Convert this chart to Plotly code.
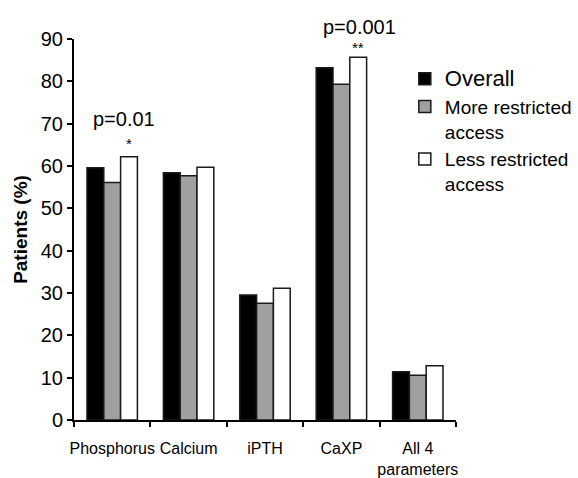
import plotly.graph_objects as go

categories = ["Phosphorus", "Calcium", "iPTH", "CaXP", "All 4<br>parameters"]
overall = [59.6, 58.4, 29.5, 83.2, 11.4]
more_restricted = [56.1, 57.7, 27.6, 79.3, 10.6]
less_restricted = [62.2, 59.7, 31.1, 85.7, 12.8]
y_ticks = [0, 10, 20, 30, 40, 50, 60, 70, 80, 90]

FONT = "Liberation Sans, Arial, Helvetica, sans-serif"

fig = go.Figure()
fig.add_trace(go.Bar(x=categories, y=overall, name='<span style="font-size:22px">Overall</span>',
                     marker=dict(color="black", line=dict(color="#1a1a1a", width=1.5))))
fig.add_trace(go.Bar(x=categories, y=more_restricted, name="More restricted<br>access",
                     marker=dict(color="#a0a0a0", line=dict(color="#1a1a1a", width=1.5))))
fig.add_trace(go.Bar(x=categories, y=less_restricted, name="Less restricted<br>access",
                     marker=dict(color="white", line=dict(color="#1a1a1a", width=1.5))))

annos = [
    dict(x=categories[0], y=71.1, yref="y", text="p=0.01", xshift=12, font=dict(size=20)),
    dict(x=categories[0], y=65.4, yref="y", text="*", xshift=17, font=dict(size=15)),
    dict(x=categories[3], y=1.0315, yref="paper", text="p=0.001", xshift=18, font=dict(size=20)),
    dict(x=categories[3], y=87.9, yref="y", text="**", xshift=17, font=dict(size=15)),
]
for a in annos:
    fig.add_annotation(xref="x", showarrow=False, yanchor="middle", **a)

fig.update_layout(
    width=578, height=478, autosize=False,
    margin=dict(l=74, r=122, t=39, b=58, autoexpand=False),
    paper_bgcolor="white", plot_bgcolor="white",
    font=dict(family=FONT, color="black", size=19),
    barmode="group", bargap=0.34, bargroupgap=0,
    showlegend=True,
    legend=dict(x=0.866, y=0.945, xanchor="left", yanchor="top",
                font=dict(size=19, family=FONT), valign="top",
                bgcolor="rgba(0,0,0,0)", itemwidth=30, tracegroupgap=0),
    xaxis=dict(range=[-0.5, 4.5], showline=True, linecolor="black", linewidth=2,
               ticks="outside", tickson="boundaries", ticklen=5, tickwidth=1.5,
               tickcolor="black", showgrid=False, zeroline=False, tickangle=0,
               automargin=False,
               tickfont=dict(size=16, family=FONT), ticklabelstandoff=13),
    yaxis=dict(range=[0, 90], tickvals=y_ticks, showline=True, linecolor="black",
               linewidth=2, ticks="outside", ticklen=5, tickwidth=1.5, tickcolor="black",
               showgrid=False, zeroline=False, tickfont=dict(size=20, family=FONT),
               automargin=False,
               title=dict(text="<b>Patients (%)</b>", font=dict(size=19, family=FONT), standoff=8)),
)

fig.write_html("out.html", config={"responsive": False, "displayModeBar": False},
               post_script="document.body.style.margin='0';document.body.style.overflow='hidden';")
